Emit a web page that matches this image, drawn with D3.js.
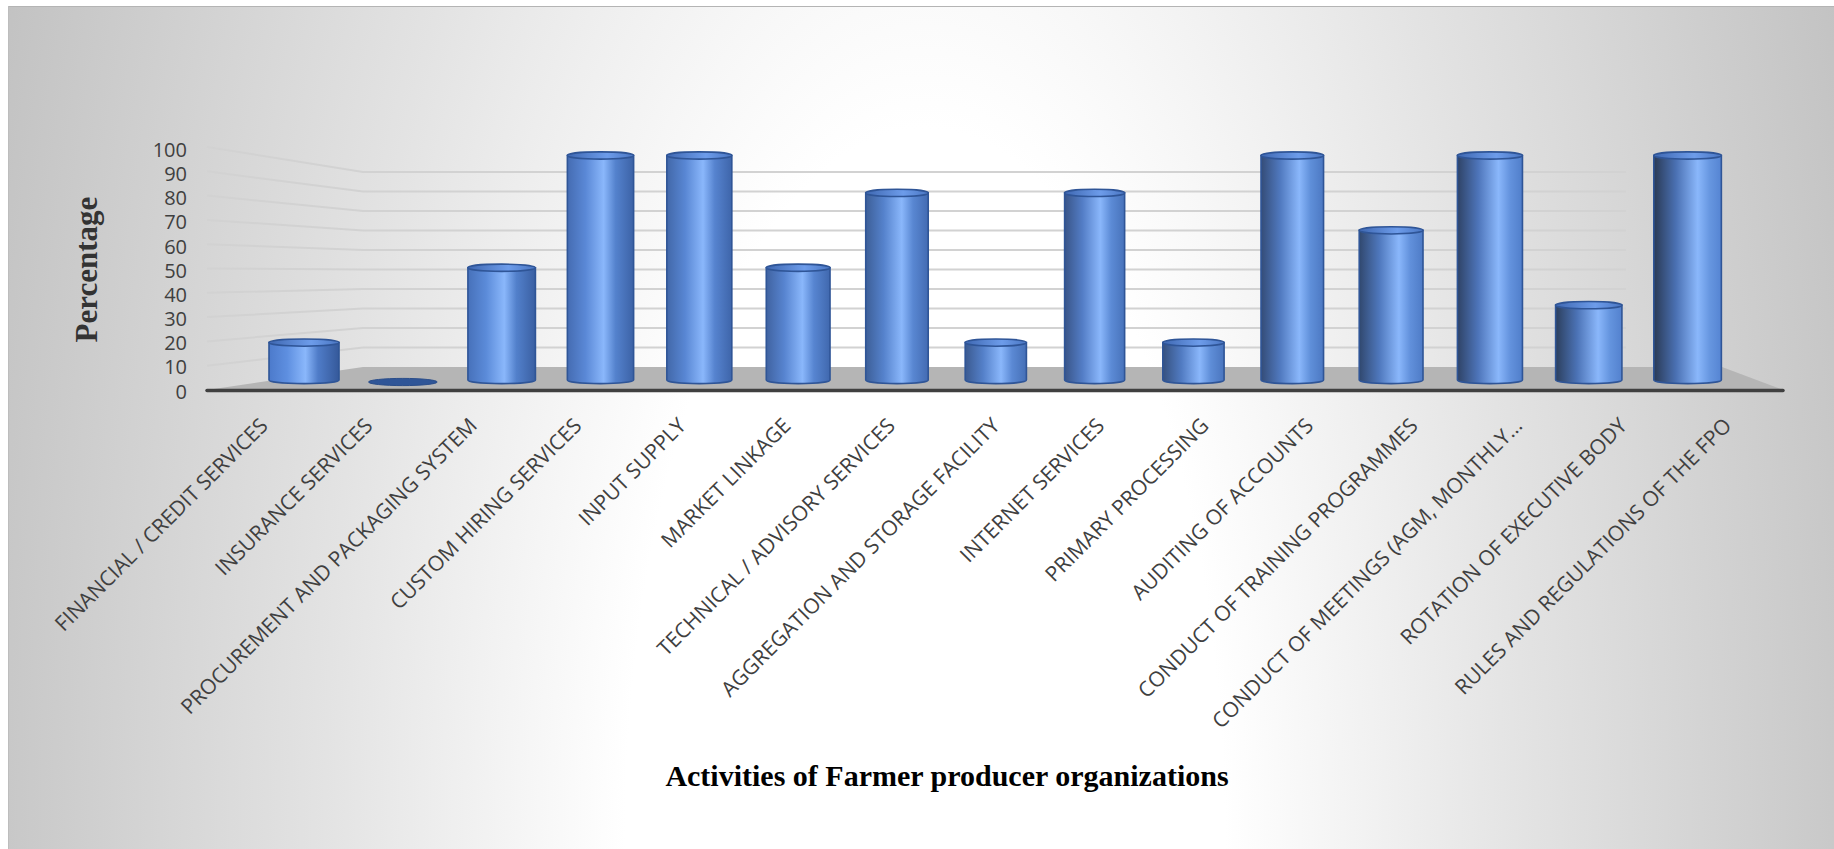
<!DOCTYPE html>
<html>
<head>
<meta charset="utf-8">
<script src="https://cdn.jsdelivr.net/npm/d3@7"></script>
<style>
  html, body { margin: 0; padding: 0; background: #ffffff; }
  svg { display: block; }
</style>
</head>
<body>
<svg id="chart" width="1834" height="849"></svg>
<script>
// ---- data ----
const categories = [
  "FINANCIAL / CREDIT SERVICES",
  "INSURANCE SERVICES",
  "PROCUREMENT AND PACKAGING SYSTEM",
  "CUSTOM HIRING SERVICES",
  "INPUT SUPPLY",
  "MARKET LINKAGE",
  "TECHNICAL / ADVISORY SERVICES",
  "AGGREGATION AND STORAGE FACILITY",
  "INTERNET SERVICES",
  "PRIMARY PROCESSING",
  "AUDITING OF ACCOUNTS",
  "CONDUCT OF TRAINING PROGRAMMES",
  "CONDUCT OF MEETINGS (AGM, MONTHLY\u2026",
  "ROTATION OF EXECUTIVE BODY",
  "RULES AND REGULATIONS OF THE FPO"
];
const values = [16.67, 0, 50, 100, 100, 50, 83.33, 16.67, 83.33, 16.67, 100, 66.67, 100, 33.33, 100];
const yTicks = [0, 10, 20, 30, 40, 50, 60, 70, 80, 90, 100];
const yTitle = "Percentage";
const xTitle = "Activities of Farmer producer organizations";

// ---- layout ----
const W = 1834, H = 849;
const svg = d3.select("#chart");
const defs = svg.append("defs");

// background radial gradient
const bg = defs.append("radialGradient").attr("id", "bg")
  .attr("gradientUnits", "userSpaceOnUse")
  .attr("cx", 925).attr("cy", 849).attr("r", 1000)
  .attr("gradientTransform", "translate(925,849) scale(1,2.4) translate(-925,-849)");
bg.append("stop").attr("offset", 0).attr("stop-color", "#ffffff");
bg.append("stop").attr("offset", 0.3).attr("stop-color", "#ffffff");
bg.append("stop").attr("offset", 0.6).attr("stop-color", "#e3e3e3");
bg.append("stop").attr("offset", 1).attr("stop-color", "#c1c1c1");

svg.append("rect").attr("x", 8).attr("y", 6).attr("width", W - 8).attr("height", H - 6)
  .attr("fill", "url(#bg)");
svg.append("line").attr("x1", 8).attr("x2", W).attr("y1", 6.5).attr("y2", 6.5)
  .attr("stroke", "#b4b4b4").attr("stroke-width", 1);
svg.append("line").attr("x1", 8.5).attr("x2", 8.5).attr("y1", 6).attr("y2", H)
  .attr("stroke", "#bdbdbd").attr("stroke-width", 1);

// scales
const xBar = d3.scaleBand().domain(categories).range([254.6, 1737]);
const xFront = d3.scaleBand().domain(categories).range([215, 1783]);
const yFront = d3.scaleLinear().domain([0, 100]).range([390, 147]);
const yBack = d3.scaleLinear().domain([0, 100]).range([367, 172]);
const yBar = d3.scaleLinear().domain([0, 100]).range([380, 155.5]);
const yLabel = d3.scaleLinear().domain([0, 100]).range([391.7, 150]);

const wallFrontX = 207, wallBackX = 363, backRightX = 1626;
const floorBackRightX = 1722, floorFrontRightX = 1783;

// gridlines (side wall + back wall)
svg.append("g").selectAll("polyline")
  .data(yTicks.filter(v => v > 0))
  .join("polyline")
  .attr("points", v => `${wallFrontX},${yFront(v)} ${wallBackX},${yBack(v)} ${backRightX},${yBack(v)}`)
  .attr("fill", "none").attr("stroke", "#d2d2d2").attr("stroke-width", 2);

// floor
svg.append("polygon")
  .attr("points", `${wallFrontX},${yFront(0)} ${wallBackX},${yBack(0)} ${floorBackRightX},${yBack(0)} ${floorFrontRightX},${yFront(0)}`)
  .attr("fill", "#b5b5b5");
svg.append("line")
  .attr("x1", wallFrontX).attr("x2", floorFrontRightX)
  .attr("y1", yFront(0) + 0.5).attr("y2", yFront(0) + 0.5)
  .attr("stroke", "#404040").attr("stroke-width", 3.5).attr("stroke-linecap", "round");

// y axis labels
const yAxis = d3.axisLeft(yLabel).tickValues(yTicks).tickSize(0).tickPadding(0);
const gy = svg.append("g").attr("transform", "translate(187,0)").call(yAxis);
gy.select(".domain").remove();
gy.selectAll("text")
  .attr("font-family", "'Open Sans', sans-serif").attr("font-size", 20)
  .attr("fill", "#404040");

// bars (3D cylinders)
const centerX = 1093;
const bw = c => 60 + 0.0127 * Math.abs(c - centerX);
const ry = 3.6;

values.forEach((v, i) => {
  const t = i / (values.length - 1);
  const g = defs.append("linearGradient").attr("id", "bar" + i)
    .attr("x1", 0).attr("x2", 1).attr("y1", 0).attr("y2", 0);
  const hl = 0.52 + 0.13 * t;
  g.append("stop").attr("offset", 0).attr("stop-color", d3.interpolateRgb("#4c7acb", "#2a3a55")(t));
  g.append("stop").attr("offset", hl * 0.5).attr("stop-color", d3.interpolateRgb("#5e8fe0", "#4a70b2")(t));
  g.append("stop").attr("offset", hl).attr("stop-color", "#8ab7fb");
  g.append("stop").attr("offset", Math.min(1, hl + 0.18)).attr("stop-color", d3.interpolateRgb("#4f7cc8", "#6696e0")(t));
  g.append("stop").attr("offset", 1).attr("stop-color", d3.interpolateRgb("#35599a", "#5584d2")(t));
});

const capGrad = defs.append("linearGradient").attr("id", "cap")
  .attr("x1", 0).attr("x2", 1).attr("y1", 0).attr("y2", 0);
capGrad.append("stop").attr("offset", 0).attr("stop-color", "#3f68b2");
capGrad.append("stop").attr("offset", 0.6).attr("stop-color", "#6d9cea");
capGrad.append("stop").attr("offset", 1).attr("stop-color", "#4a76c2");

const bars = svg.append("g").selectAll("g")
  .data(categories.map((c, i) => ({ c, v: values[i], i })))
  .join("g");

bars.each(function (d) {
  const g = d3.select(this);
  const cx = xBar(d.c) + xBar.bandwidth() / 2;
  const w = bw(cx), hw = w / 2;
  const yb = yBar(0), yt = yBar(d.v);
  if (d.v <= 0) {
    g.append("ellipse").attr("cx", cx).attr("cy", yb + 2).attr("rx", hw).attr("ry", ry)
      .attr("fill", "#2f5597").attr("stroke", "#2a4d8a").attr("stroke-width", 1);
    return;
  }
  g.append("path")
    .attr("d", `M${cx - hw},${yt} L${cx - hw},${yb} A${hw},${ry} 0 0 0 ${cx + hw},${yb} L${cx + hw},${yt} Z`)
    .attr("fill", `url(#bar${d.i})`)
    .attr("stroke", "#2f5597").attr("stroke-width", 1.6);
  g.append("ellipse").attr("cx", cx).attr("cy", yt).attr("rx", hw).attr("ry", ry)
    .attr("fill", "url(#cap)").attr("stroke", "#2f5597").attr("stroke-width", 1.6);
});

// category labels
svg.append("g").selectAll("text")
  .data(categories)
  .join("text")
  .attr("transform", c => `translate(${xFront(c) + xFront.bandwidth() / 2 + 2},427) rotate(-45)`)
  .attr("text-anchor", "end")
  .attr("font-family", "'Open Sans', sans-serif").attr("font-size", 21)
  .attr("fill", "#404040")
  .text(c => c);

// titles
svg.append("text")
  .attr("transform", "translate(97,269.5) rotate(-90)")
  .attr("text-anchor", "middle")
  .attr("font-family", "'Liberation Serif', 'Times New Roman', serif")
  .attr("font-weight", "bold").attr("font-size", 31)
  .attr("fill", "#333333")
  .text(yTitle);

svg.append("text")
  .attr("x", 947).attr("y", 786)
  .attr("text-anchor", "middle")
  .attr("font-family", "'Liberation Serif', 'Times New Roman', serif")
  .attr("font-weight", "bold").attr("font-size", 30)
  .attr("fill", "#000000")
  .text(xTitle);
</script>
</body>
</html>
